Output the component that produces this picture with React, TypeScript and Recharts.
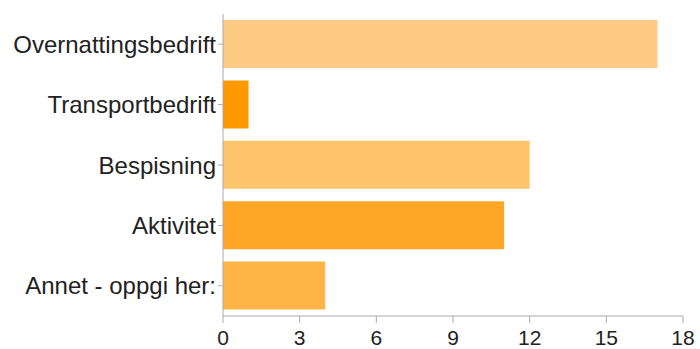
import { BarChart, Bar, XAxis, YAxis, Cell } from "recharts";

const categories = [
  "Overnattingsbedrift",
  "Transportbedrift",
  "Bespisning",
  "Aktivitet",
  "Annet - oppgi her:",
];
const counts = [17, 1, 12, 11, 4];
const barColors = ["#fecb85", "#ff9900", "#fec46b", "#ffa626", "#ffb546"];
const xTicks = [0, 3, 6, 9, 12, 15, 18];

const data = categories.map((name, i) => ({ name, value: counts[i] }));

const FONT = "'Liberation Sans', Arial, Helvetica, sans-serif";

export default function App() {
  return (
    <div style={{ position: "absolute", left: 0, top: 0, background: "#fff" }}>
      <BarChart
        width={700}
        height={349}
        data={data}
        layout="vertical"
        margin={{ top: 14, right: 17, left: 0, bottom: 0 }}
        barSize={48}
      >
        <XAxis
          type="number"
          domain={[0, 18]}
          ticks={xTicks}
          height={33}
          tick={{ fontSize: 21, fill: "#222", fontFamily: FONT }}
          tickLine={{ stroke: "#aaa" }}
          axisLine={{ stroke: "#aaa" }}
          tickSize={7}
          tickMargin={7}
        />
        <YAxis
          type="category"
          dataKey="name"
          width={223}
          tick={{ fontSize: 24, fill: "#222", fontFamily: FONT }}
          tickLine={{ stroke: "#aaa" }}
          axisLine={{ stroke: "#aaa" }}
          tickSize={5}
          tickMargin={2}
        />
        <Bar dataKey="value" isAnimationActive={false}>
          {data.map((d, i) => (
            <Cell key={d.name} fill={barColors[i]} />
          ))}
        </Bar>
      </BarChart>
    </div>
  );
}
